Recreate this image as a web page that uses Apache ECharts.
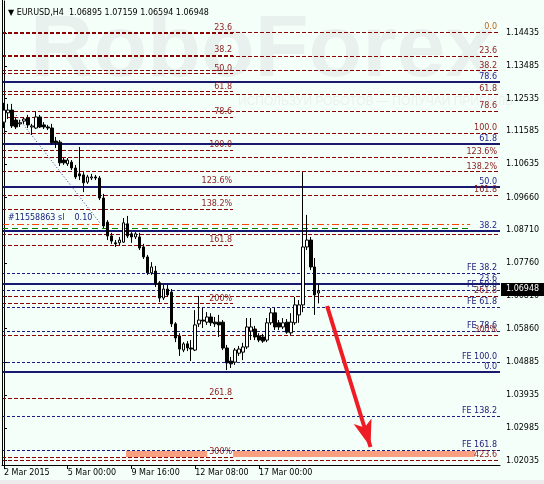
<!DOCTYPE html>
<html>
<head>
<meta charset="utf-8">
<title>EURUSD,H4</title>
<script src="https://cdn.jsdelivr.net/npm/echarts@6/dist/echarts.min.js"></script>
<style>
  html, body { margin: 0; padding: 0; background: #f5fffa; }
  #chart { width: 544px; height: 484px; }
</style>
</head>
<body>
<div id="chart"></div>
<script>
// H4 bars: [open, close, low, high]
const candles = [
  [1.1185, 1.1220, 1.1168, 1.1241], [1.1212, 1.1220, 1.1194, 1.1238], [1.1220, 1.1174, 1.1168, 1.1238],
  [1.1191, 1.1171, 1.1165, 1.1200], [1.1180, 1.1183, 1.1171, 1.1191], [1.1188, 1.1194, 1.1180, 1.1200],
  [1.1197, 1.1177, 1.1168, 1.1206], [1.1171, 1.1174, 1.1148, 1.1180], [1.1168, 1.1200, 1.1165, 1.1217],
  [1.1200, 1.1171, 1.1168, 1.1206], [1.1177, 1.1171, 1.1165, 1.1185], [1.1171, 1.1168, 1.1162, 1.1177],
  [1.1168, 1.1125, 1.1119, 1.1180], [1.1130, 1.1125, 1.1110, 1.1142], [1.1127, 1.1067, 1.1058, 1.1133],
  [1.1075, 1.1067, 1.1061, 1.1081], [1.1064, 1.1075, 1.1058, 1.1081], [1.1069, 1.1052, 1.1046, 1.1075],
  [1.1052, 1.1026, 1.1020, 1.1061], [1.1035, 1.1029, 1.1017, 1.1113], [1.1032, 1.1009, 1.0982, 1.1040],
  [1.1011, 1.1026, 1.1006, 1.1032], [1.1023, 1.1026, 1.1017, 1.1035], [1.1026, 1.1023, 1.1017, 1.1032],
  [1.1023, 1.0965, 1.0959, 1.1029], [1.0965, 1.0884, 1.0878, 1.0977], [1.0895, 1.0855, 1.0843, 1.0901],
  [1.0855, 1.0840, 1.0832, 1.0864], [1.0835, 1.0832, 1.0823, 1.0843], [1.0835, 1.0843, 1.0826, 1.0852],
  [1.0837, 1.0893, 1.0835, 1.0907], [1.0890, 1.0855, 1.0849, 1.0913], [1.0861, 1.0852, 1.0835, 1.0866],
  [1.0852, 1.0861, 1.0846, 1.0866], [1.0852, 1.0820, 1.0814, 1.0864], [1.0823, 1.0794, 1.0788, 1.0832],
  [1.0794, 1.0748, 1.0742, 1.0800], [1.0748, 1.0765, 1.0742, 1.0779], [1.0753, 1.0716, 1.0707, 1.0768],
  [1.0719, 1.0675, 1.0663, 1.0724], [1.0675, 1.0701, 1.0669, 1.0713], [1.0701, 1.0684, 1.0678, 1.0713],
  [1.0692, 1.0600, 1.0591, 1.0701], [1.0600, 1.0559, 1.0547, 1.0605], [1.0565, 1.0527, 1.0507, 1.0573],
  [1.0524, 1.0542, 1.0518, 1.0547], [1.0542, 1.0530, 1.0521, 1.0550], [1.0530, 1.0527, 1.0492, 1.0553],
  [1.0524, 1.0597, 1.0521, 1.0640], [1.0600, 1.0611, 1.0591, 1.0681], [1.0611, 1.0608, 1.0588, 1.0646],
  [1.0605, 1.0620, 1.0597, 1.0634], [1.0620, 1.0603, 1.0594, 1.0631], [1.0605, 1.0600, 1.0591, 1.0620],
  [1.0605, 1.0597, 1.0562, 1.0626], [1.0605, 1.0530, 1.0524, 1.0611], [1.0530, 1.0487, 1.0466, 1.0539],
  [1.0492, 1.0484, 1.0472, 1.0504], [1.0489, 1.0524, 1.0481, 1.0530], [1.0515, 1.0527, 1.0507, 1.0536],
  [1.0518, 1.0533, 1.0495, 1.0545], [1.0533, 1.0591, 1.0527, 1.0617], [1.0579, 1.0591, 1.0553, 1.0617],
  [1.0585, 1.0562, 1.0553, 1.0594], [1.0565, 1.0553, 1.0547, 1.0573], [1.0562, 1.0550, 1.0545, 1.0571],
  [1.0553, 1.0603, 1.0547, 1.0617], [1.0603, 1.0632, 1.0597, 1.0646], [1.0632, 1.0591, 1.0582, 1.0646],
  [1.0603, 1.0591, 1.0582, 1.0611], [1.0591, 1.0603, 1.0585, 1.0617], [1.0605, 1.0576, 1.0571, 1.0614],
  [1.0574, 1.0605, 1.0568, 1.0631], [1.0603, 1.0655, 1.0597, 1.0678], [1.0626, 1.0655, 1.0603, 1.0669],
  [1.0655, 1.0823, 1.0634, 1.1040], [1.0823, 1.0843, 1.0814, 1.0916], [1.0843, 1.0765, 1.0756, 1.0852],
  [1.0765, 1.0684, 1.0626, 1.0791], [1.06895, 1.06948, 1.06594, 1.07159]
];
const lastPrice = 1.06948;

// bar slots on the time axis (chart shift leaves empty room on the right)
const slotCount = 125;
const xTickBars = [0, 16, 32, 48, 64];
const xTickLabels = ['2 Mar 2015', '5 Mar 00:00', '9 Mar 16:00', '12 Mar 08:00', '17 Mar 00:00'];
const yTicks = [1.14435, 1.13485, 1.12535, 1.11585, 1.10635, 1.09660, 1.08710, 1.07760,
  1.06810, 1.05860, 1.04885, 1.03935, 1.02985, 1.02035];

// fibo retracement (left, ends at bar 57.5)
const fiboANames = ['23.6', '38.2', '50.0', '61.8', '78.6', '100.0', '123.6%', '138.2%', '161.8', '200%', '261.8', '300%'];
const fiboAPrices = [1.14435, 1.13785, 1.13261, 1.12736, 1.11987, 1.11036, 1.09986, 1.09337, 1.08287, 1.06588, 1.03838, 1.02139];
// fibo retracement (full width)
const fiboBNames = ['0.0', '23.6', '38.2', '61.8', '78.6', '100.0', '123.6%', '138.2%', '161.8', '', '261.8', '300%', '423.6'];
const fiboBPrices = [1.14464, 1.13774, 1.13345, 1.12654, 1.12161, 1.11535, 1.10845, 1.10416, 1.09726, 1.08606, 1.06796, 1.05677, 1.02052];
// blue fibo (solid)
const fiboCNames = ['0.0', '23.6', '38.2', '50.0', '61.8', '78.6'];
const fiboCPrices = [1.04604, 1.07156, 1.08708, 1.09969, 1.11231, 1.13023];
// fibo expansion
const feNames = ['FE 38.2', 'FE 50.0', 'FE 61.8', 'FE 78.6', 'FE 100.0', 'FE 138.2', 'FE 161.8'];
const fePrices = [1.07475, 1.06982, 1.06489, 1.05793, 1.04894, 1.03328, 1.02342];

// order lines
const orderPrice = 1.08896;
const orderLabel = '#11558863 sl    0.10';
const tpPrice = 1.08780;
// drawn objects: [bar, price]
const trendLine = [[3.0, 1.12057], [24.1, 1.08925]];
const arrowLine = [[81.1, 1.06518], [92.0, 1.02430]];
const targetZones = [[[30.6, 1.02313], [51.0, 1.02139]], [[57.5, 1.02313], [118.2, 1.02139]]];

const FONT = 'DejaVu Sans';
const chart = echarts.init(document.getElementById('chart'));

function levelData(names, prices, x0, x1) {
  return prices.map(function (p, i) {
    return [{ coord: [x0, p], name: names[i] }, { coord: [x1, p], name: names[i] }];
  });
}

function markLineSeries(data, lineStyle, label, z) {
  return {
    type: 'line',
    data: [],
    z: z,
    markLine: {
      silent: true,
      animation: false,
      symbol: ['none', 'none'],
      lineStyle: lineStyle,
      label: label || { show: false },
      emphasis: { disabled: true },
      data: data
    }
  };
}

function levelLabel(color, dx) {
  return {
    show: true,
    position: 'insideEndTop',
    formatter: '{b}',
    color: color,
    fontFamily: FONT,
    fontSize: 8,
    distance: [dx, 1]
  };
}

const xMin = -0.5;
const xMax = slotCount - 0.5;

// the 0.0 level text of the right fibo is drawn in orange-brown
const fiboBData = levelData(fiboBNames, fiboBPrices, xMin, xMax);
fiboBData[0][0].label = { color: '#b8641c' };
fiboBData[0][1].label = { color: '#b8641c' };

const option = {
  backgroundColor: '#f5fffa',
  animation: false,
  title: {
    text: '▼ EURUSD,H4  1.06895 1.07159 1.06594 1.06948',
    left: 3,
    top: 4,
    textStyle: { color: '#000', fontFamily: FONT, fontSize: 8, fontWeight: 'normal' }
  },
  graphic: [
    { type: 'text', left: 30, top: 8, z: -10, silent: true,
      style: { text: 'RoboForex', fill: '#e8f1ee', font: 'bold 88px "Liberation Sans"' } },
    { type: 'text', left: 238, top: 96, z: -10, silent: true,
      style: { text: 'ИСПОЛЬЗУЙ РОБОТОВ — ПОЛУЧАЙ ПРИБЫЛЬ', fill: '#e9f2ef', font: '12px "Liberation Sans"' } },
    { type: 'line', z: 10, silent: true, shape: { x1: 2.5, y1: 0, x2: 2.5, y2: 465 }, style: { stroke: '#000', lineWidth: 1 } },
    { type: 'rect', z: 10, silent: true, shape: { x: 0, y: 480, width: 544, height: 4 }, style: { fill: '#ececec' } }
  ],
  grid: { left: 2, right: 44, top: 1, bottom: 19 },
  xAxis: {
    type: 'value',
    min: xMin,
    max: xMax,
    axisLine: { lineStyle: { color: '#000', width: 1 } },
    axisTick: { show: true, customValues: xTickBars, length: 4, lineStyle: { color: '#000' } },
    axisLabel: {
      customValues: xTickBars,
      align: 'left',
      margin: 4,
      color: '#000',
      fontFamily: FONT,
      fontSize: 8,
      formatter: function (v) { return xTickLabels[xTickBars.indexOf(v)] || ''; }
    },
    splitLine: { show: false }
  },
  yAxis: {
    type: 'value',
    position: 'right',
    min: 1.01907,
    max: 1.15363,
    axisLine: { show: true, lineStyle: { color: '#000', width: 1 } },
    axisTick: { show: true, customValues: yTicks, length: 3, lineStyle: { color: '#000' } },
    axisLabel: {
      customValues: yTicks,
      margin: 6,
      color: '#000',
      fontFamily: FONT,
      fontSize: 8,
      formatter: function (v) { return v.toFixed(5); }
    },
    splitLine: { show: false }
  },
  series: [
    // salmon target rectangle
    {
      type: 'line', data: [], z: 2,
      markArea: {
        silent: true,
        itemStyle: { color: '#fa9f80' },
        data: targetZones.map(function (z) { return [{ coord: z[0] }, { coord: z[1] }]; })
      }
    },
    markLineSeries(levelData(fiboANames, fiboAPrices, xMin, 57.5),
      { color: '#8b0000', width: 1, type: [4, 2] }, levelLabel('#8b1a1a', 1), 3),
    markLineSeries(fiboBData,
      { color: '#8b0000', width: 1, type: [4, 2] }, levelLabel('#8b1a1a', 3), 3),
    markLineSeries(levelData(feNames, fePrices, xMin, xMax),
      { color: '#1a1a80', width: 1, type: [3, 2] }, levelLabel('#20207a', 3), 3),
    markLineSeries(levelData(fiboCNames, fiboCPrices, xMin, xMax),
      { color: '#191970', width: 2, type: 'solid' }, levelLabel('#1c1c8c', 3), 4),
    markLineSeries([[{ coord: [xMin, orderPrice], name: orderLabel }, { coord: [117, orderPrice], name: orderLabel }]],
      { color: '#ff4500', width: 1, type: [7, 3, 2, 3] },
      { show: true, position: 'insideStartTop', formatter: '{b}', color: '#1a237e', fontFamily: FONT, fontSize: 8, distance: [6, 2] }, 4),
    markLineSeries([[{ coord: [xMin, tpPrice] }, { coord: [117, tpPrice] }]],
      { color: '#008000', width: 1, type: [6, 4] }, null, 4),
    markLineSeries([[{ coord: trendLine[0] }, { coord: trendLine[1] }]],
      { color: '#4b2a9a', width: 1, type: [1, 2] }, null, 4),
    {
      type: 'candlestick',
      z: 6,
      barWidth: 3,
      data: candles.map(function (c, i) { return [i, c[0], c[1], c[2], c[3]]; }),
      itemStyle: { color: '#ffffff', color0: '#000000', borderColor: '#000000', borderColor0: '#000000', borderWidth: 1 }
    },
    {
      type: 'line', data: [], z: 8,
      markLine: {
        silent: true, animation: false,
        symbol: ['none', 'arrow'],
        lineStyle: { color: '#ee1c24', width: 4, type: 'solid' },
        itemStyle: { color: '#ee1c24' },
        label: { show: false },
        data: [[{ coord: arrowLine[0], symbolSize: 1 }, { coord: arrowLine[1], symbolSize: [14, 27] }]]
      }
    },
    {
      type: 'line', data: [], z: 9,
      markLine: {
        silent: true, animation: false,
        symbol: ['none', 'none'],
        lineStyle: { color: 'rgba(0,0,0,0)', width: 0 },
        label: {
          show: true, position: 'end', distance: 1, formatter: '{b}',
          color: '#fff', backgroundColor: '#000', padding: [3, 5, 2, 5],
          fontFamily: FONT, fontSize: 8
        },
        data: [{ yAxis: lastPrice, name: lastPrice.toFixed(5) }]
      }
    }
  ]
};

chart.setOption(option);
</script>
</body>
</html>
